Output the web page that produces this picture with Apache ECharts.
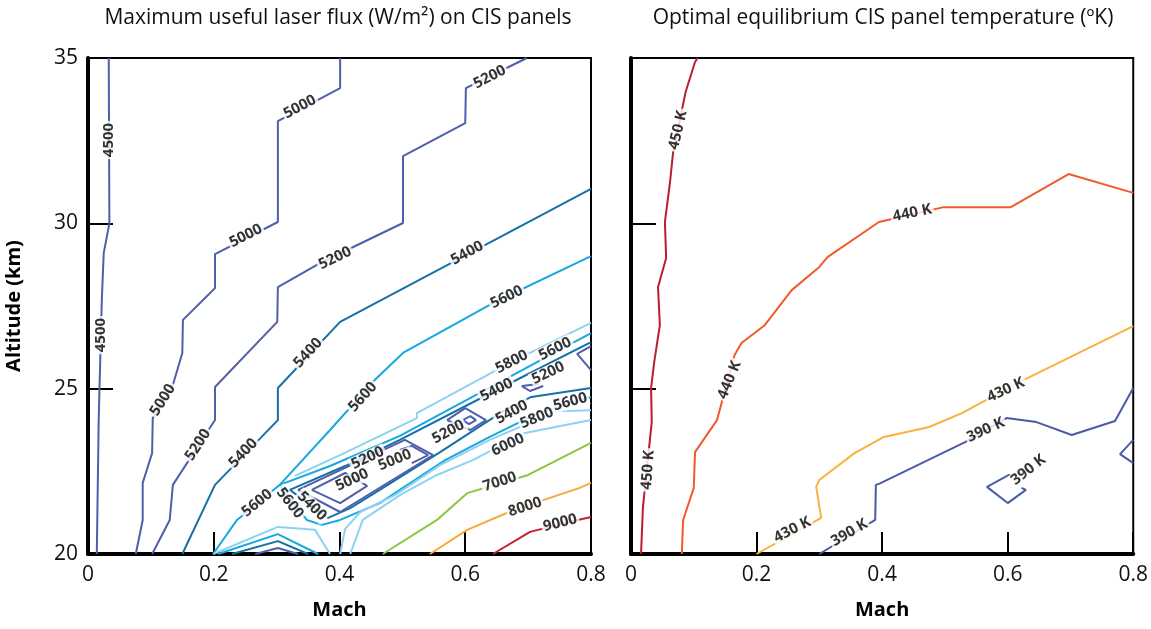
<!DOCTYPE html>
<html>
<head>
<meta charset="utf-8">
<script src="https://cdn.jsdelivr.net/npm/echarts@6/dist/echarts.min.js"></script>
<style>
  html, body { margin: 0; padding: 0; background: #fff; }
  #chart { width: 1151px; height: 629px; }
</style>
</head>
<body>
<div id="chart"></div>
<script>
// ---- left panel: laser flux contours, [Mach, km] ----
const flux4500 = [[0.033,35],[0.034,30.0],[0.025,29.1],[0.022,27.7],[0.017,24.05],[0.014,20]]
const flux5000 = [[0.401,35],[0.401,34.09],[0.302,33.09],[0.302,30.04],[0.202,29.07],[0.202,28.04],[0.183,27.68],[0.151,27.08],[0.150,26.08],[0.134,25.05],[0.103,24.11],[0.102,23.05],[0.087,22.15],[0.087,21.03],[0.076,20]]
const flux5200 = [[0.698,35],[0.601,34.09],[0.600,33.03],[0.501,32.03],[0.501,30.01],[0.369,28.80],[0.302,28.07],[0.301,27.02],[0.202,25.05],[0.202,24.05],[0.135,22.09],[0.130,21.03],[0.102,20]]
const flux5400Outer = [[0.8,31.04],[0.401,27.02],[0.302,25.02],[0.302,24.05],[0.202,22.09],[0.150,20]]
const flux5600Outer = [[0.8,29.01],[0.644,27.59],[0.501,26.08],[0.456,25.26],[0.385,23.75],[0.305,22.09],[0.237,21.03],[0.199,20]]
const flux5800Upper = [[0.8,26.99],[0.674,25.81],[0.523,24.26],[0.523,24.11],[0.401,22.99],[0.329,22.36]]
const flux5600Band = [[0.8,26.68],[0.496,23.57],[0.385,22.66],[0.305,22.09],[0.348,21.03],[0.372,20.88],[0.401,21.03],[0.464,21.54],[0.568,22.84],[0.639,23.54],[0.719,24.29],[0.8,24.75]]
const flux5400Band = [[0.8,26.41],[0.650,24.96],[0.496,23.45],[0.409,22.66],[0.321,21.94],[0.382,21.09],[0.417,21.39],[0.464,21.94],[0.560,23.08],[0.663,24.35],[0.705,24.75],[0.8,25.02]]
const flux5800Lower = [[0.8,24.35],[0.746,24.32],[0.639,23.45],[0.56,22.69],[0.488,21.78],[0.433,21.27],[0.409,20.76],[0.401,20]]
const flux5800Foot = [[0.199,20],[0.302,20.82],[0.361,20.73],[0.385,20]]
const flux5600Foot = [[0.207,20],[0.302,20.6],[0.366,20]]
const flux5400Foot = [[0.229,20],[0.302,20.39],[0.35,20]]
const flux5200Foot = [[0.266,20],[0.302,20.18],[0.334,20]]
const flux6000 = [[0.8,24.05],[0.695,23.66],[0.612,22.84],[0.555,22.39],[0.496,21.78],[0.437,21.03],[0.417,20]]
const flux7000 = [[0.8,23.36],[0.7,22.39],[0.603,21.84],[0.555,21.03],[0.469,20]]
const flux8000 = [[0.8,22.15],[0.782,22.0],[0.724,21.63],[0.666,21.24],[0.603,20.73],[0.544,20]]
const flux9000 = [[0.8,21.12],[0.779,21.03],[0.703,20.67],[0.644,20]]
// closed low pockets along the valley
const flux5200LoopA = [[0.334,21.94],[0.504,23.45],[0.549,22.99],[0.401,21.27],[0.334,21.94]]
const flux5000LoopA = [[0.356,21.94],[0.409,22.45],[0.444,22.06],[0.401,21.54],[0.356,21.94]]
const flux5000LoopB = [[0.496,23.15],[0.515,23.27],[0.541,22.99],[0.515,22.75]]
const flux5200LoopB = [[0.571,24.05],[0.6,24.41],[0.633,24.05],[0.608,23.75],[0.571,24.05]]
const flux5000LoopC = [[0.596,24.05],[0.608,24.17],[0.617,24.05],[0.606,23.93],[0.596,24.05]]
const flux5200LoopC = [[0.717,25.14],[0.69,25.08],[0.703,24.93],[0.724,25.08]]
const flux5200Edge = [[0.8,26.29],[0.778,26.05],[0.8,25.56]]

// [Mach, km, text, angle]
const fluxLabels = [
  [0.033,32.52,'4500',90],[0.021,26.62,'4500',90],
  [0.337,33.52,'5000',28],[0.251,29.62,'5000',27],[0.119,24.66,'5000',58],
  [0.639,34.42,'5200',27],[0.393,28.95,'5200',26],[0.175,23.30,'5200',57],
  [0.603,29.10,'5400',28],[0.350,26.08,'5400',47],[0.247,23.05,'5400',46],
  [0.666,27.77,'5600',26],[0.437,24.75,'5600',48],[0.269,21.54,'5600',39],
  [0.321,21.54,'5600',-52],[0.356,21.45,'5400',-45],
  [0.674,25.81,'5800',27],[0.743,26.2,'5600',27],[0.65,24.96,'5400',27],
  [0.732,25.47,'5200',25],
  [0.674,24.29,'5400',28],[0.767,24.6,'5600',15],[0.714,24.11,'5800',22],[0.668,23.3,'6000',25],
  [0.573,23.69,'5200',28],[0.445,22.9,'5200',25],[0.488,22.84,'5000',22],[0.42,22.24,'5000',25],
  [0.655,22.18,'7000',18],[0.695,21.42,'8000',18],[0.751,20.94,'9000',14]
]

// ---- right panel: panel temperature contours ----
const temp450 = [[0.106,35],[0.102,34.88],[0.087,33.97],[0.067,32.13],[0.062,31.22],[0.054,30.04],[0.056,28.95],[0.043,28.07],[0.046,26.92],[0.037,25.81],[0.032,25.02],[0.033,23.99],[0.019,21.42],[0.016,20]]
const temp440 = [[0.8,30.92],[0.697,31.49],[0.605,30.49],[0.498,30.49],[0.395,30.04],[0.313,28.98],[0.300,28.68],[0.256,27.98],[0.213,26.92],[0.176,26.38],[0.165,26.02],[0.137,24.05],[0.102,23.08],[0.100,22.0],[0.083,21.03],[0.081,20]]
const temp430 = [[0.8,26.89],[0.625,25.26],[0.527,24.26],[0.475,23.84],[0.403,23.54],[0.356,23.05],[0.300,22.24],[0.295,22.03],[0.303,21.09],[0.2,20]]
const temp390 = [[0.8,25.02],[0.771,24.02],[0.702,23.6],[0.646,23.99],[0.598,24.11],[0.533,23.39],[0.395,22.12],[0.390,22.09],[0.389,21.03],[0.3,20]]
const temp390Loop = [[0.608,22.33],[0.602,22.39],[0.567,22.03],[0.6,21.54],[0.629,21.94],[0.622,22.0]]
const temp390Edge = [[0.8,23.45],[0.779,23.02],[0.8,22.75]]

const tempLabels = [
  [0.075,32.82,'450 K',77],[0.027,22.54,'450 K',86],
  [0.448,30.31,'440 K',12],[0.157,25.26,'440 K',68],
  [0.597,24.96,'430 K',25],[0.257,20.73,'430 K',27],
  [0.565,23.75,'390 K',25],[0.348,20.64,'390 K',30],[0.633,22.54,'390 K',38]
]

const machTicks = [0, 0.2, 0.4, 0.6, 0.8]

const C = {
  purple: '#4f5fa9',
  dark: '#1570a8',
  mid: '#1aa7e0',
  light: '#8dd2f3',
  green: '#8cc63e',
  orange: '#f9a93a',
  red: '#c0222f',
  t450: '#bb1e2e',
  t440: '#f15a2b',
  t430: '#fbb03f',
  t390: '#4a5aa6'
}
const FONT = '"Open Sans", "Noto Sans", sans-serif'

const line = (data, color, gi) => ({
  type: 'line',
  xAxisIndex: gi,
  yAxisIndex: gi,
  data,
  symbol: 'none',
  silent: true,
  z: 2,
  lineStyle: { color, width: 2 }
})

const labels = (list, gi) => ({
  type: 'scatter',
  xAxisIndex: gi,
  yAxisIndex: gi,
  symbolSize: 0,
  silent: true,
  z: 5,
  label: {
    show: true,
    position: 'inside',
    color: '#000',
    fontSize: 15,
    fontWeight: 'bold',
    fontFamily: FONT,
    backgroundColor: '#fff',
    padding: [0, 2]
  },
  data: list.map(l => ({ value: [l[0], l[1]], label: { formatter: l[2], rotate: l[3] } }))
})

const xAxis = gi => ({
  type: 'value',
  gridIndex: gi,
  min: 0,
  max: 0.8,
  interval: 0.2,
  name: 'Mach',
  nameLocation: 'middle',
  nameGap: 46,
  nameTextStyle: { fontFamily: FONT, fontSize: 20, fontWeight: 'bold', color: '#000' },
  axisLine: { lineStyle: { color: '#000', width: 4 } },
  axisTick: { inside: true, length: 22, lineStyle: { color: '#000', width: 2 } },
  axisLabel: {
    fontFamily: FONT, fontSize: 21, color: '#111', margin: 11,
    formatter: v => machTicks.includes(+v.toFixed(1)) ? (v === 0 ? '0' : v.toFixed(1)) : ''
  },
  splitLine: { show: false }
})

const yAxis = (gi, showLabels) => ({
  type: 'value',
  gridIndex: gi,
  min: 20,
  max: 35,
  interval: 5,
  name: showLabels ? 'Altitude (km)' : '',
  nameLocation: 'middle',
  nameGap: 64,
  nameTextStyle: { fontFamily: FONT, fontSize: 20, fontWeight: 'bold', color: '#000' },
  axisLine: { lineStyle: { color: '#000', width: 4 } },
  axisTick: { inside: true, length: 25, lineStyle: { color: '#000', width: 2 } },
  axisLabel: { show: showLabels, fontFamily: FONT, fontSize: 21, color: '#111', margin: 10 },
  splitLine: { show: false }
})

const chart = echarts.init(document.getElementById('chart'))
chart.setOption({
  animation: false,
  backgroundColor: '#fff',
  graphic: [
    { type: 'text', x: 338, y: 18, style: { text: 'Maximum useful laser flux (W/m²) on CIS panels', textAlign: 'center', textVerticalAlign: 'middle', font: '21px ' + FONT, fill: '#111' } },
    { type: 'text', x: 883, y: 18, style: { text: 'Optimal equilibrium CIS panel temperature (ºK)', textAlign: 'center', textVerticalAlign: 'middle', font: '21px ' + FONT, fill: '#111' } }
  ],
  grid: [
    { left: 88, top: 58, width: 503, height: 496, show: true, borderColor: '#000', borderWidth: 2 },
    { left: 631, top: 58, width: 504, height: 496, show: true, borderColor: '#000', borderWidth: 2 }
  ],
  xAxis: [xAxis(0), xAxis(1)],
  yAxis: [yAxis(0, true), yAxis(1, false)],
  series: [
    line(flux4500, C.purple, 0),
    line(flux5000, C.purple, 0),
    line(flux5200, C.purple, 0),
    line(flux5400Outer, C.dark, 0),
    line(flux5600Outer, C.mid, 0),
    line(flux5800Upper, C.light, 0),
    line(flux5600Band, C.mid, 0),
    line(flux5400Band, C.dark, 0),
    line(flux5800Lower, C.light, 0),
    line(flux5800Foot, C.light, 0),
    line(flux5600Foot, C.mid, 0),
    line(flux5400Foot, C.dark, 0),
    line(flux5200Foot, C.purple, 0),
    line(flux6000, C.light, 0),
    line(flux7000, C.green, 0),
    line(flux8000, C.orange, 0),
    line(flux9000, C.red, 0),
    line(flux5200LoopA, C.purple, 0),
    line(flux5000LoopA, C.purple, 0),
    line(flux5000LoopB, C.purple, 0),
    line(flux5200LoopB, C.purple, 0),
    line(flux5000LoopC, C.purple, 0),
    line(flux5200LoopC, C.purple, 0),
    line(flux5200Edge, C.purple, 0),
    labels(fluxLabels, 0),
    line(temp450, C.t450, 1),
    line(temp440, C.t440, 1),
    line(temp430, C.t430, 1),
    line(temp390, C.t390, 1),
    line(temp390Loop, C.t390, 1),
    line(temp390Edge, C.t390, 1),
    labels(tempLabels, 1)
  ]
})
</script>
</body>
</html>
